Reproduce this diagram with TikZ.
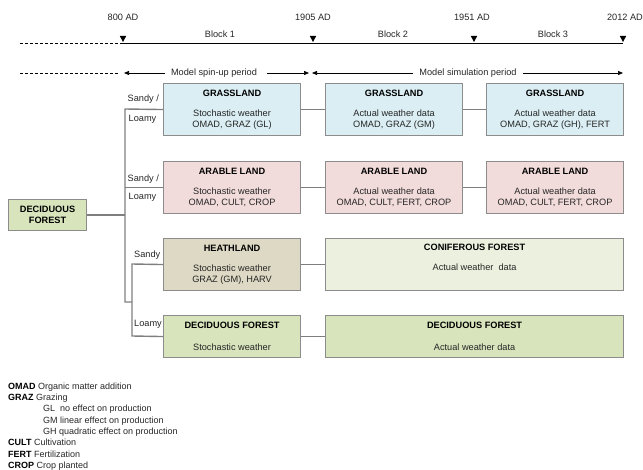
\documentclass[tikz,border=0pt]{standalone}
\usepackage{fontspec}
\setmainfont{Liberation Sans}
\usetikzlibrary{arrows.meta}
\definecolor{grassfill}{HTML}{DAEEF3}
\definecolor{arablefill}{HTML}{F2DCDB}
\definecolor{heathfill}{HTML}{DDD9C4}
\definecolor{conifill}{HTML}{EBF1DE}
\definecolor{decifill}{HTML}{D7E4BC}
\definecolor{edgegray}{HTML}{8C8C8C}
\definecolor{linegray}{HTML}{7F7F7F}
\definecolor{bodytext}{HTML}{262626}
\begin{document}
\begin{tikzpicture}[x=1pt,y=-1pt,
  font=\fontsize{9.2}{10.5}\selectfont,
  box/.style={draw=edgegray, line width=1.1pt, inner sep=0pt, align=center,
    anchor=north west, text=bodytext},
  bigbox/.style={box, minimum width=137pt, minimum height=52pt},
  lowbox/.style={box, minimum width=137pt, minimum height=42pt},
  conn/.style={draw=linegray, line width=1.4pt},
  tline/.style={draw=black, line width=0.7pt},
  tarrow/.style={tline, -{Triangle[length=5pt,width=4pt]}},
  tmark/.style={fill=black},
  lbl/.style={inner sep=0pt, text=bodytext},
  ttl/.style={font=\fontsize{9.2}{10.5}\selectfont\bfseries}
]
\useasboundingbox (0,0) rectangle (643,470);

% ---------- timeline ----------
\node[lbl] (y800) at (123,17) {800 AD};
\node[lbl] (y1905) at (313,17) {1905 AD};
\node[lbl] (y1951) at (472,17) {1951 AD};
\node[lbl] (y2012) at (625,17) {2012 AD};
\node[lbl] (b1) at (220,34) {Block 1};
\node[lbl] (b2) at (393,34) {Block 2};
\node[lbl] (b3) at (553,34) {Block 3};

\coordinate (tl0) at (20,43);
\coordinate (tl1) at (123,43);
\coordinate (tl2) at (313,43);
\coordinate (tl3) at (474,43);
\coordinate (tl4) at (623,43);
\draw[tline, dashed, dash pattern=on 3pt off 2pt] (tl0) -- (tl1);
\draw[tline] (tl1) -- (tl4);
\foreach \c in {tl1,tl2,tl3,tl4}{
  \fill[tmark] ([yshift=1pt]\c) -- ++(-3.2,-6) -- ++(6.4,0) -- cycle;
}

\node[lbl] (spin) at (214,73) {Model spin-up period};
\node[lbl] (sim) at (468,73) {Model simulation period};
\coordinate (sp0) at (20,73);
\coordinate (sp1) at (118,73);
\coordinate (sp2) at (124,73);
\coordinate (sp3) at (309,73);
\coordinate (si1) at (312,73);
\coordinate (si2) at (623,73);
\draw[tline, dashed, dash pattern=on 3pt off 2pt] (sp0) -- (sp1);
\draw[tarrow] (spin.west) ++(-6,0) -- (sp2);
\draw[tarrow] (spin.east) ++(10,0) -- (sp3);
\draw[tarrow] (sim.west) ++(-6,0) -- (si1);
\draw[tarrow] (sim.east) ++(6,0) -- (si2);

% ---------- boxes ----------
\node[box, fill=decifill, minimum width=78pt, minimum height=31pt, text=black,
  font=\fontsize{9.2}{11}\selectfont\bfseries] (df) at (8,199) {DECIDUOUS\\FOREST};

\node[bigbox, fill=grassfill] (g1) at (163,83)
  {\textcolor{black}{\bfseries GRASSLAND}\\[9.5pt]Stochastic weather\\OMAD, GRAZ (GL)};
\node[bigbox, fill=grassfill] (g2) at (325,83)
  {\textcolor{black}{\bfseries GRASSLAND}\\[9.5pt]Actual weather data\\OMAD, GRAZ (GM)};
\node[bigbox, fill=grassfill] (g3) at (486,83)
  {\textcolor{black}{\bfseries GRASSLAND}\\[9.5pt]Actual weather data\\OMAD, GRAZ (GH), FERT};

\node[bigbox, fill=arablefill] (a1) at (163,161)
  {\textcolor{black}{\bfseries ARABLE LAND}\\[9.5pt]Stochastic weather\\OMAD, CULT, CROP};
\node[bigbox, fill=arablefill] (a2) at (325,161)
  {\textcolor{black}{\bfseries ARABLE LAND}\\[9.5pt]Actual weather data\\OMAD, CULT, FERT, CROP};
\node[bigbox, fill=arablefill] (a3) at (486,161)
  {\textcolor{black}{\bfseries ARABLE LAND}\\[9.5pt]Actual weather data\\OMAD, CULT, FERT, CROP};

\node[bigbox, fill=heathfill] (h1) at (163,238)
  {\textcolor{black}{\bfseries HEATHLAND}\\[9.5pt]Stochastic weather\\GRAZ (GM), HARV};
\node[box, fill=conifill, minimum width=298pt, minimum height=52pt] (c2) at (325,238)
  {\textcolor{black}{\bfseries CONIFEROUS FOREST}\\[9.5pt]Actual weather\ \ data\\\strut};

\node[lowbox, fill=decifill] (d1) at (163,315)
  {\textcolor{black}{\bfseries DECIDUOUS FOREST}\\[12pt]Stochastic weather};
\node[box, fill=decifill, minimum width=298pt, minimum height=42pt] (d2) at (325,315)
  {\textcolor{black}{\bfseries DECIDUOUS FOREST}\\[12pt]Actual weather data};

% ---------- connectors between periods ----------
\draw[conn] (g1.east) -- (g2.west);
\draw[conn] (g2.east) -- (g3.west);
\draw[conn] (a1.east) -- (a2.west);
\draw[conn] (a2.east) -- (a3.west);
\draw[conn] (h1.east) -- (c2.west);
\draw[conn] (d1.east) -- (d2.west);

% ---------- tree ----------
\coordinate (vtop) at (125,109);
\coordinate (vbot) at (125,302);
\coordinate (vmid) at (132,302);
\coordinate (wtop) at (132,264);
\coordinate (wbot) at (132,336);
\draw[conn] (g1.west) -- (vtop) -- (vbot) -- (vmid);
\draw[conn] (a1.west) -- (a1.west -| vtop);
\draw[conn] (df.east) -- (df.east -| vtop);
\draw[conn] (h1.west) -- (wtop) -- (wbot) -- (d1.west);

\node[lbl, anchor=west] (s1) at (127.5,99) {Sandy /};
\node[lbl, anchor=west] (l1) at (128.5,119) {Loamy};
\node[lbl, anchor=west] (s2) at (127.5,179) {Sandy /};
\node[lbl, anchor=west] (l2) at (128.5,197) {Loamy};
\node[lbl, anchor=west] (s3) at (134,255) {Sandy};
\node[lbl, anchor=west] (l4) at (134,324) {Loamy};

% ---------- legend ----------
\node[lbl, anchor=north west, align=left, font=\fontsize{9}{11.3}\selectfont]
  (legend) at (8,382.5)
  {\textcolor{black}{\bfseries OMAD} Organic matter addition\\
   \textcolor{black}{\bfseries GRAZ} Grazing\\
   \hspace*{35pt}GL\ \ no effect on production\\
   \hspace*{35pt}GM linear effect on production\\
   \hspace*{35pt}GH quadratic effect on production\\
   \textcolor{black}{\bfseries CULT} Cultivation\\
   \textcolor{black}{\bfseries FERT} Fertilization\\
   \textcolor{black}{\bfseries CROP} Crop planted};
\end{tikzpicture}
\end{document}
